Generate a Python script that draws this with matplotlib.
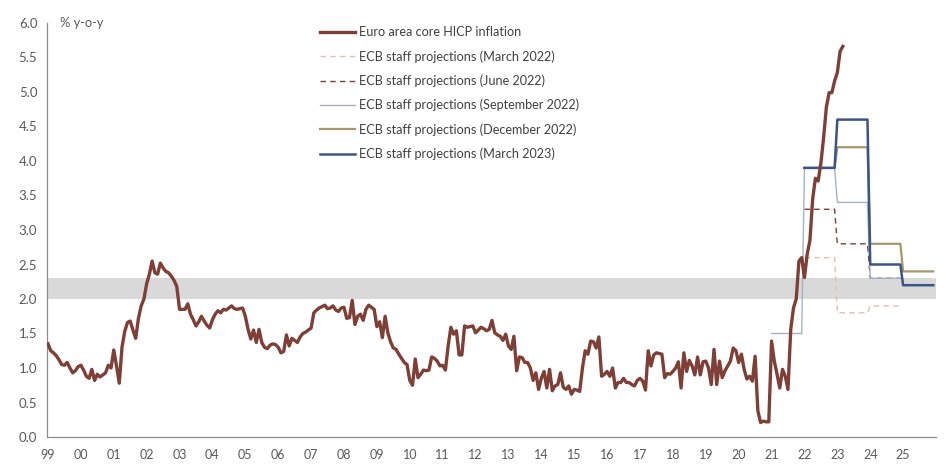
"""Euro area core HICP inflation vs. ECB staff projections."""

import matplotlib

matplotlib.use("Agg")
import matplotlib.pyplot as plt
import numpy as np

# Monthly core HICP inflation (% y-o-y), Jan 1999 - Mar 2023
core_hicp = [
    # 1999
    1.35, 1.25, 1.22, 1.18, 1.12, 1.05, 1.04, 1.08, 1.00, 0.93, 0.96, 1.02,
    # 2000
    1.04, 0.97, 0.88, 0.85, 0.98, 0.82, 0.91, 0.87, 0.90, 0.93, 1.04, 1.00,
    # 2001
    1.26, 1.03, 0.78, 1.30, 1.53, 1.66, 1.68, 1.55, 1.43, 1.72, 1.90, 2.00,
    # 2002
    2.22, 2.36, 2.55, 2.38, 2.36, 2.52, 2.45, 2.40, 2.38, 2.33, 2.27, 2.18,
    # 2003
    1.85, 1.85, 1.85, 1.93, 1.78, 1.70, 1.61, 1.67, 1.75, 1.68, 1.62, 1.58,
    # 2004
    1.70, 1.78, 1.83, 1.80, 1.85, 1.84, 1.87, 1.90, 1.86, 1.85, 1.86, 1.87,
    # 2005
    1.75, 1.56, 1.42, 1.55, 1.37, 1.56, 1.37, 1.30, 1.28, 1.33, 1.35, 1.34,
    # 2006
    1.30, 1.22, 1.24, 1.48, 1.32, 1.43, 1.40, 1.37, 1.45, 1.50, 1.52, 1.55,
    # 2007
    1.58, 1.80, 1.84, 1.87, 1.89, 1.91, 1.86, 1.87, 1.90, 1.84, 1.82, 1.87,
    # 2008
    1.88, 1.72, 1.73, 1.98, 1.63, 1.75, 1.78, 1.69, 1.85, 1.91, 1.88, 1.85,
    # 2009
    1.60, 1.67, 1.44, 1.75, 1.51, 1.38, 1.29, 1.27, 1.20, 1.14, 1.08, 1.05,
    # 2010
    0.82, 0.75, 1.13, 0.86, 0.91, 0.97, 0.96, 0.97, 1.16, 1.14, 1.10, 1.03,
    # 2011
    1.04, 0.97, 1.32, 1.59, 1.49, 1.54, 1.19, 1.19, 1.61, 1.59, 1.60, 1.61,
    # 2012
    1.51, 1.55, 1.59, 1.57, 1.54, 1.56, 1.69, 1.51, 1.48, 1.46, 1.40, 1.49,
    # 2013
    1.32, 1.27, 1.46, 0.96, 1.16, 1.15, 1.08, 1.08, 1.00, 0.82, 0.93, 0.69,
    # 2014
    0.85, 0.95, 0.71, 0.98, 0.67, 0.74, 0.76, 0.93, 0.72, 0.69, 0.74, 0.62,
    # 2015
    0.69, 0.68, 0.66, 1.00, 1.25, 1.20, 1.39, 1.38, 1.29, 1.45, 0.88, 0.91,
    # 2016
    0.95, 0.88, 1.00, 0.71, 0.79, 0.79, 0.85, 0.79, 0.79, 0.76, 0.74, 0.82,
    # 2017
    0.85, 0.81, 0.68, 1.25, 1.03, 1.19, 1.22, 1.21, 1.20, 0.86, 0.92, 0.91,
    # 2018
    0.95, 1.00, 1.09, 0.71, 1.22, 0.95, 1.11, 1.03, 0.90, 1.16, 0.90, 1.09,
    # 2019
    1.10, 1.00, 0.76, 1.27, 0.76, 1.10, 0.86, 0.96, 1.03, 1.10, 1.29, 1.25,
    # 2020
    1.08, 1.20, 0.98, 0.84, 0.88, 0.81, 1.17, 0.38, 0.21, 0.23, 0.22, 0.22,
    # 2021
    1.39, 1.10, 0.91, 0.71, 0.98, 0.88, 0.69, 1.56, 1.87, 2.00, 2.55, 2.60,
    # 2022
    2.31, 2.65, 2.85, 3.45, 3.75, 3.71, 3.97, 4.34, 4.78, 4.99, 4.99, 5.16,
    # 2023
    5.28, 5.59, 5.66,
]

# Annual ECB staff projections (core HICP, %)
proj_mar22_years = [2022, 2023, 2024]
proj_mar22 = [2.6, 1.8, 1.9]
proj_jun22_years = [2022, 2023, 2024]
proj_jun22 = [3.3, 2.8, 2.3]
proj_sep22_years = [2021, 2022, 2023, 2024]
proj_sep22 = [1.5, 3.9, 3.4, 2.3]
proj_dec22_years = [2022, 2023, 2024, 2025]
proj_dec22 = [3.9, 4.2, 2.8, 2.4]
proj_mar23_years = [2022, 2023, 2024, 2025]
proj_mar23 = [3.9, 4.6, 2.5, 2.2]

target_band = (2.0, 2.3)
year_labels = [f"{y % 100:02d}" for y in range(1999, 2026)]

TEXT = "#595959"
plt.rcParams["font.family"] = ["Lato", "DejaVu Sans"]


def annual_steps(years, values):
    # each annual value is held from January to December
    xs, ys = [], []
    for y, v in zip(years, values):
        xs += [y, y + 11 / 12]
        ys += [v, v]
    return xs, ys


fig = plt.figure(figsize=(9.46, 4.69), dpi=100)
ax = fig.add_axes([47 / 946, 1 - 437 / 469, (936 - 47) / 946, (437 - 23) / 469])

ax.axhspan(*target_band, color="#d9d9d9", lw=0, zorder=0)

months = 1999 + np.arange(len(core_hicp)) / 12

styles = [
    (proj_mar22_years, proj_mar22, "ECB staff projections (March 2022)",
     dict(color="#e3c0ad", lw=1.0, ls=(0, (4, 3)))),
    (proj_jun22_years, proj_jun22, "ECB staff projections (June 2022)",
     dict(color="#7e3f3a", lw=1.0, ls=(0, (4, 3)))),
    (proj_sep22_years, proj_sep22, "ECB staff projections (September 2022)",
     dict(color="#a3b2c6", lw=1.0)),
    (proj_dec22_years, proj_dec22, "ECB staff projections (December 2022)",
     dict(color="#a8976c", lw=1.6)),
    (proj_mar23_years, proj_mar23, "ECB staff projections (March 2023)",
     dict(color="#3a5585", lw=1.8)),
]

handles = []
(h_core,) = ax.plot(months, core_hicp, color="#7e3f37", lw=2.4, zorder=5,
                    solid_joinstyle="round", label="Euro area core HICP inflation")
handles.append(h_core)
for yrs, vals, label, kw in styles:
    xs, ys = annual_steps(yrs, vals)
    (h,) = ax.plot(xs, ys, label=label, zorder=3, **kw)
    handles.append(h)

ax.set_xlim(1998.97, 2026.0)
ax.set_ylim(0, 6)
ax.set_yticks(np.arange(0, 6.01, 0.5))
ax.set_yticklabels([f"{v:.1f}" for v in np.arange(0, 6.01, 0.5)])
ax.set_xticks(range(1999, 2026))
ax.set_xticklabels(year_labels)
ax.tick_params(axis="both", length=0, colors=TEXT)
ax.tick_params(axis="y", pad=7, labelsize=9.5)
ax.tick_params(axis="x", pad=8.5, labelsize=9)

for side in ("top", "right"):
    ax.spines[side].set_visible(False)
for side in ("left", "bottom"):
    ax.spines[side].set_color("#8c8c8c")
    ax.spines[side].set_linewidth(0.9)

ax.text(0.015, 6.0, "% y-o-y", fontsize=9.3, color=TEXT, va="center", ha="left",
        transform=ax.get_yaxis_transform())

ax.legend(handles=handles, loc="upper left", bbox_to_anchor=(320 / 946, 1 - 26.5 / 469),
          bbox_transform=fig.transFigure, frameon=False, fontsize=9.1,
          borderpad=0, borderaxespad=0, handlelength=2.78, handletextpad=0.33,
          labelspacing=0.93, labelcolor="#404040")

fig.savefig("out.png", dpi=100)
